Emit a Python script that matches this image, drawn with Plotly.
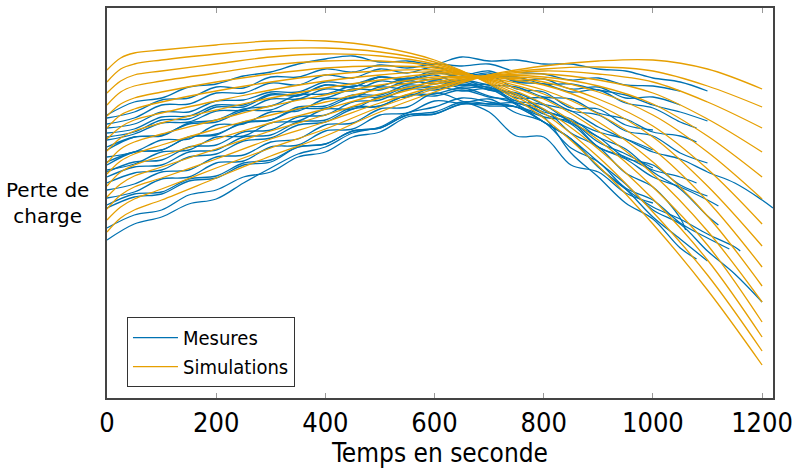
import plotly.graph_objects as go

# temps (s) pour les simulations
t_sim = [0, 25, 50, 100, 200, 300, 400, 500, 600, 700, 800, 900, 1000, 1100, 1200]

sim_01 = [330, 342, 347, 350, 355, 359, 359, 353, 340, 316, 282, 234, 176, 110, 35]
sim_02 = [318, 331, 336, 340, 346, 351, 352, 348, 338, 317, 287, 243, 188, 125, 49]
sim_03 = [307, 319, 325, 329, 336, 343, 346, 344, 336, 318, 291, 251, 201, 140, 63]
sim_04 = [295, 308, 314, 319, 327, 335, 339, 339, 334, 319, 296, 260, 213, 155, 78]
sim_05 = [284, 296, 302, 308, 318, 326, 332, 334, 332, 320, 301, 269, 226, 169, 98]
sim_06 = [272, 285, 291, 298, 309, 318, 325, 329, 330, 321, 306, 278, 238, 184, 114]
sim_07 = [261, 273, 280, 287, 299, 310, 319, 325, 328, 322, 310, 286, 251, 199, 133]
sim_08 = [249, 262, 269, 277, 290, 302, 312, 320, 326, 323, 315, 295, 263, 214, 154]
sim_09 = [237, 251, 258, 266, 280, 294, 305, 315, 323, 323, 318, 301, 274, 231, 176]
sim_10 = [226, 239, 246, 255, 271, 285, 298, 311, 321, 323, 321, 308, 285, 248, 201]
sim_11 = [214, 228, 235, 244, 261, 277, 291, 306, 318, 324, 323, 314, 296, 264, 223]
sim_12 = [203, 216, 224, 233, 251, 269, 285, 302, 316, 324, 326, 320, 307, 281, 248]
sim_13 = [191, 205, 213, 222, 241, 261, 278, 297, 313, 324, 329, 326, 318, 298, 272]
sim_14 = [180, 193, 201, 211, 232, 252, 271, 293, 311, 325, 331, 333, 329, 314, 293]
sim_15 = [168, 182, 190, 200, 222, 244, 264, 288, 308, 325, 334, 339, 340, 331, 311]

# mesures : une valeur toutes les 50 s, la derniere valeur est a l'instant de fin
t_step = 50
mes_end = [1100, 1050, 1100, 1080, 1080, 1100, 1220, 1100, 1120, 1140, 1160,
           1080, 1100, 1200, 1000, 1000, 1080, 1050, 1000, 1060, 1120, 1000]

mes_01 = [285, 298, 302, 313, 316, 324, 328, 336, 341, 344, 338, 339, 336, 343, 339, 340, 336, 336, 331, 329, 322, 318, 309]
mes_02 = [282, 288, 300, 302, 313, 312, 323, 323, 331, 328, 335, 332, 336, 334, 336, 328, 326, 320, 322, 315, 314, 309]
mes_03 = [250, 263, 264, 277, 280, 291, 294, 305, 306, 314, 314, 322, 320, 327, 323, 323, 316, 316, 310, 305, 295, 288, 279]
mes_04 = [272, 276, 288, 288, 299, 300, 308, 308, 318, 316, 323, 320, 327, 323, 327, 318, 316, 308, 310, 297, 292, 278, 272]
mes_05 = [235, 248, 250, 263, 265, 278, 280, 293, 294, 305, 305, 315, 313, 320, 315, 313, 303, 301, 287, 281, 268, 264, 258]
mes_06 = [260, 266, 277, 278, 289, 290, 301, 301, 311, 309, 319, 316, 321, 314, 315, 302, 302, 289, 285, 269, 264, 247, 237]
mes_07 = [228, 238, 240, 253, 255, 268, 270, 283, 285, 298, 300, 311, 310, 316, 310, 307, 296, 289, 273, 261, 248, 241, 228, 217, 200, 192]
mes_08 = [243, 248, 260, 261, 275, 276, 288, 289, 301, 302, 313, 311, 319, 312, 313, 299, 295, 277, 263, 242, 235, 215, 204]
mes_09 = [217, 227, 230, 243, 246, 259, 262, 275, 278, 291, 294, 305, 304, 310, 303, 299, 286, 276, 253, 241, 223, 213, 200, 194]
mes_10 = [202, 208, 221, 223, 237, 239, 253, 255, 269, 271, 285, 287, 299, 297, 301, 287, 278, 252, 238, 212, 200, 177, 162, 151]
mes_11 = [223, 233, 235, 248, 250, 263, 265, 278, 280, 293, 294, 305, 306, 312, 304, 296, 278, 261, 233, 211, 193, 181, 166, 153, 149]
mes_12 = [267, 271, 283, 284, 295, 295, 306, 305, 315, 313, 323, 319, 325, 315, 315, 295, 283, 247, 223, 197, 181, 152, 141]
mes_13 = [192, 203, 206, 219, 222, 235, 238, 253, 256, 269, 272, 285, 288, 298, 296, 293, 278, 261, 233, 211, 183, 161, 139]
mes_14 = [160, 176, 183, 196, 201, 217, 232, 246, 253, 267, 273, 287, 293, 302, 298, 293, 278, 261, 238, 216, 190, 176, 149, 126, 98]
mes_15 = [238, 248, 250, 263, 266, 277, 280, 291, 292, 303, 303, 313, 312, 318, 310, 305, 290, 279, 258, 246, 232]
mes_16 = [210, 216, 228, 230, 243, 245, 258, 261, 275, 277, 291, 293, 307, 299, 288, 264, 263, 235, 228, 207, 197]
mes_17 = [253, 263, 265, 276, 278, 289, 290, 301, 302, 311, 310, 319, 316, 320, 312, 306, 290, 279, 253, 243, 230, 223, 217]
mes_18 = [276, 282, 295, 296, 307, 307, 317, 315, 325, 322, 331, 327, 333, 325, 329, 319, 321, 311, 313, 302, 303, 295]
mes_19 = [195, 206, 208, 221, 224, 237, 240, 253, 256, 269, 272, 285, 286, 296, 294, 293, 283, 279, 268, 261, 250]
mes_20 = [230, 236, 248, 250, 263, 264, 277, 279, 291, 291, 303, 303, 313, 309, 311, 297, 291, 267, 253, 227, 213, 182, 170]
mes_21 = [172, 185, 190, 205, 210, 223, 228, 243, 248, 263, 268, 283, 286, 296, 296, 297, 288, 281, 263, 251, 228, 211, 184, 175]
mes_22 = [263, 268, 280, 281, 293, 293, 305, 304, 315, 313, 323, 321, 329, 323, 325, 311, 308, 292, 291, 275, 270]

mesures = [mes_01, mes_02, mes_03, mes_04, mes_05, mes_06, mes_07, mes_08, mes_09, mes_10, mes_11,
           mes_12, mes_13, mes_14, mes_15, mes_16, mes_17, mes_18, mes_19, mes_20, mes_21, mes_22]
simulations = [sim_01, sim_02, sim_03, sim_04, sim_05, sim_06, sim_07, sim_08,
               sim_09, sim_10, sim_11, sim_12, sim_13, sim_14, sim_15]

BLUE = "#0072B2"
ORANGE = "#E69F00"
NARROW = "Liberation Sans Narrow, DejaVu Sans Condensed, sans-serif"

fig = go.Figure()

for k, vals in enumerate(mesures):
    t = [i * t_step for i in range(len(vals) - 1)] + [mes_end[k]]
    fig.add_trace(go.Scatter(
        x=t, y=vals, mode="lines", name="Mesures",
        line=dict(color=BLUE, width=1.3, shape="spline", smoothing=1.0),
        legendgroup="mes", showlegend=(k == 0)))

for k, vals in enumerate(simulations):
    fig.add_trace(go.Scatter(
        x=t_sim, y=vals, mode="lines", name="Simulations",
        line=dict(color=ORANGE, width=1.3, shape="spline", smoothing=1.0),
        legendgroup="sim", showlegend=(k == 0)))

fig.update_layout(
    width=792, height=468,
    margin=dict(l=107, r=19, t=8, b=70),
    paper_bgcolor="white", plot_bgcolor="white",
    font=dict(family=NARROW, color="black"),
    legend=dict(x=0.03, y=0.028, xanchor="left", yanchor="bottom",
                bordercolor="#333", borderwidth=1, bgcolor="white",
                itemwidth=45, font=dict(family=NARROW, size=20), tracegroupgap=0),
    annotations=[dict(text="Perte de<br>charge", xref="paper", yref="paper",
                      x=-0.09, y=0.5, xanchor="center", yanchor="middle",
                      showarrow=False,
                      font=dict(family="DejaVu Sans", size=20, color="black"))],
)

fig.update_xaxes(
    range=[0, 1220], tickvals=[0, 200, 400, 600, 800, 1000, 1200],
    ticks="inside", ticklen=5, tickcolor="#999", tickwidth=1,
    showline=True, linecolor="#444", linewidth=1.5, mirror="ticks",
    showgrid=False, zeroline=False, automargin=False, ticklabeloverflow="allow",
    tickfont=dict(family=NARROW, size=27),
    title=dict(text="Temps en seconde", font=dict(family=NARROW, size=26), standoff=10),
)
fig.update_yaxes(
    range=[2, 392], showticklabels=False, ticks="",
    showline=True, linecolor="#444", linewidth=1.5, mirror=True,
    showgrid=False, zeroline=False, automargin=False,
)

# no default body margin, so the 792x468 figure fills the window exactly
fig.write_html("out.html", config={"displayModeBar": False},
               post_script="document.body.style.margin = '0px';")
